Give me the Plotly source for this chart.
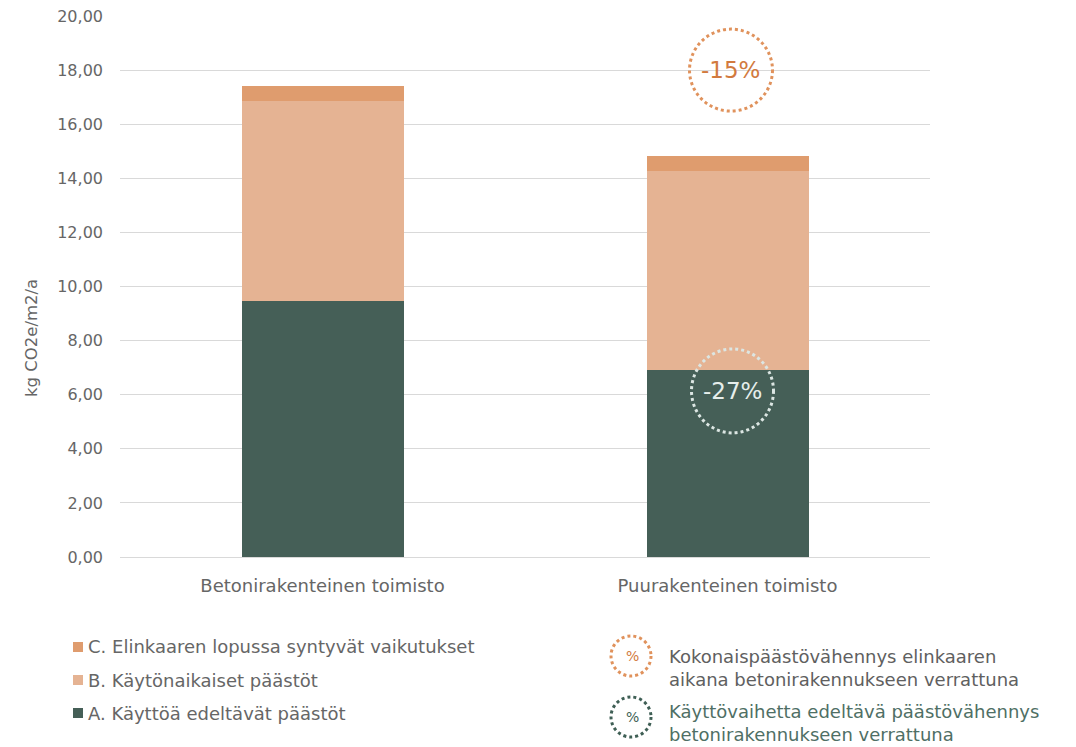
import plotly.graph_objects as go

categories = ["Betonirakenteinen toimisto", "Puurakenteinen toimisto"]
series_names = ["A. Käyttöä edeltävät päästöt", "B. Käytönaikaiset päästöt", "C. Elinkaaren lopussa syntyvät vaikutukset"]
values_A = [9.46, 6.91]
values_B = [7.40, 7.36]
values_C = [0.55, 0.55]
tick_vals = [0, 2, 4, 6, 8, 10, 12, 14, 16, 18, 20]
reduction_total = "-15%"
reduction_pre = "-27%"
y_title = "kg CO2e/m2/a"

colors = ["#455F57", "#E5B393", "#DF9C6E"]
FONT = "DejaVu Sans"
GRAY = "#666666"

fig = go.Figure()
for name, vals, c in zip(series_names, [values_A, values_B, values_C], colors):
    fig.add_trace(go.Bar(x=categories, y=vals, name=name, marker=dict(color=c, line=dict(width=0)),
                         showlegend=False))

# plot area in pixels
L, R, T, B = 120, 930, 16, 557
W, H = R - L, B - T
def px(x):
    return (x - L) / W
def py(y):
    return (B - y) / H

shapes = []
annotations = []

# in-chart circles anchored to data
shapes.append(dict(type="circle", xref="x", yref="y", xsizemode="pixel", ysizemode="pixel",
                   xanchor=1, yanchor=18.0, x0=-38, x1=45, y0=-41, y1=41,
                   line=dict(color="#E0925C", width=3, dash="dot")))
annotations.append(dict(x=1, y=18.0, xref="x", yref="y", text=reduction_total, showarrow=False,
                        xshift=3, xanchor="center", yanchor="middle",
                        font=dict(family=FONT, size=23, color="#D27A3E")))
shapes.append(dict(type="circle", xref="x", yref="y", xsizemode="pixel", ysizemode="pixel",
                   xanchor=1, yanchor=6.14, x0=-36, x1=46, y0=-42, y1=42,
                   line=dict(color="#DCE6E3", width=3, dash="dot")))
annotations.append(dict(x=1, y=6.14, xref="x", yref="y", text=reduction_pre, showarrow=False,
                        xshift=5, xanchor="center", yanchor="middle",
                        font=dict(family=FONT, size=23, color="#E6EEEB")))

# y-axis title
annotations.append(dict(x=px(31), y=py(338), xref="paper", yref="paper", text=y_title, showarrow=False,
                        textangle=-90, xanchor="center", yanchor="middle",
                        font=dict(family=FONT, size=16.5, color=GRAY)))

# left legend
leg_items = [(series_names[2], colors[2], 647), (series_names[1], colors[1], 680), (series_names[0], colors[0], 713)]
for name, c, yc in leg_items:
    shapes.append(dict(type="rect", xref="paper", yref="paper", x0=px(73), x1=px(83), y0=py(yc + 5), y1=py(yc - 5),
                       fillcolor=c, line=dict(width=0)))
    annotations.append(dict(x=px(86), y=py(yc), xref="paper", yref="paper", text=name, showarrow=False,
                            xanchor="left", yanchor="middle", font=dict(family=FONT, size=18, color=GRAY)))

# right legend
right_items = [("#E0925C", "#D27A3E", 656, "Kokonaispäästövähennys elinkaaren<br>aikana betonirakennukseen verrattuna", "#606060", 668),
               ("#3F5F55", "#3F5F55", 717, "Käyttövaihetta edeltävä päästövähennys<br>betonirakennukseen verrattuna", "#4F6F65", 723)]
for lc, tc, yc, txt, txtc, ty in right_items:
    shapes.append(dict(type="circle", xref="paper", yref="paper", x0=px(611), x1=px(651), y0=py(yc + 20), y1=py(yc - 20),
                       line=dict(color=lc, width=3, dash="dot")))
    annotations.append(dict(x=px(632), y=py(yc), xref="paper", yref="paper", text="%", showarrow=False,
                            xanchor="center", yanchor="middle",
                            font=dict(family=FONT, size=14, color=tc)))
    annotations.append(dict(x=px(667), y=py(ty), xref="paper", yref="paper", text=txt, showarrow=False,
                            xanchor="left", yanchor="middle", align="left",
                            font=dict(family=FONT, size=18, color=txtc)))

fig.update_layout(
    width=1076, height=747,
    margin=dict(l=L, r=1076 - R, t=T, b=747 - B, autoexpand=False),
    barmode="stack", bargap=0.6,
    plot_bgcolor="white", paper_bgcolor="white",
    separators=", ",
    font=dict(family=FONT, color=GRAY),
    shapes=shapes, annotations=annotations,
    xaxis=dict(showgrid=False, showline=False, ticks="", automargin=False,
               tickfont=dict(size=18, color=GRAY), ticklabelstandoff=16),
    yaxis=dict(range=[0, 20], tickvals=tick_vals, tickformat=".2f", showgrid=True, gridcolor="#D9D9D9",
               gridwidth=1, zeroline=True, zerolinecolor="#D9D9D9", zerolinewidth=1, automargin=False,
               tickfont=dict(size=16, color=GRAY), ticklabelstandoff=16),
)

fig.write_html("out.html")
